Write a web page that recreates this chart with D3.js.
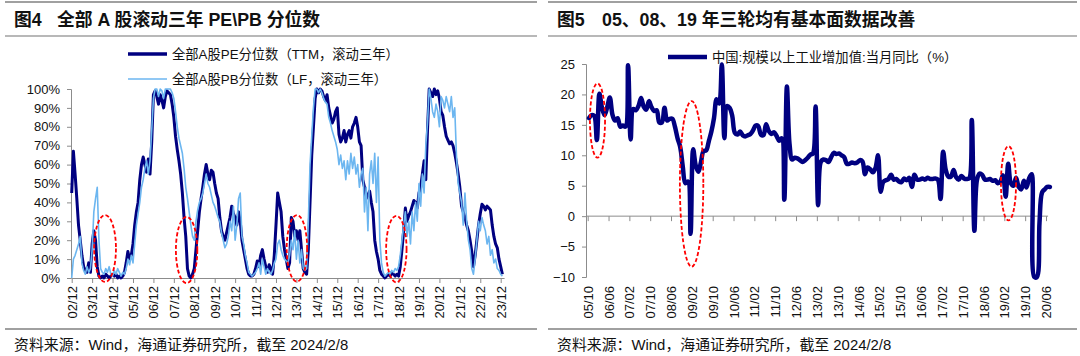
<!DOCTYPE html>
<html><head><meta charset="utf-8">
<script src="https://cdn.jsdelivr.net/npm/d3@7"></script>
<style>
html,body{margin:0;padding:0;background:#fff;}
svg{display:block;}
text{font-family:"Liberation Sans", Arial, "Noto Sans CJK SC", sans-serif;}
</style></head><body>
<svg id="c" width="1080" height="356"></svg>
<script>
// ---------- Left chart data (monthly, from 2002/12) ----------
const peStart = [2002, 12];
const pePercentile = [
 45,67,55,42,28,20,12,6,4,3,8,3,
 18,25,20,6,1,0,1,0,2,1,0,1,
 2,1,2,0,1,0,1,3,8,14,10,12,
 18,28,35,40,52,60,64,60,56,63,55,72,
 97,99,96,92,97,94,90,96,99,98,97,92,
 85,75,68,62,55,45,32,22,5,1,0,2,
 5,15,25,35,42,48,55,60,55,52,57,56,
 50,45,42,32,25,22,20,24,28,32,38,34,
 32,28,35,30,20,15,10,5,2,1,1,2,
 5,9,6,12,15,10,6,3,7,5,2,12,
 28,45,40,35,22,15,10,5,8,32,30,22,
 25,20,25,15,5,3,2,15,40,65,80,95,
 100,98,100,99,96,94,97,90,86,82,84,88,
 90,76,72,74,78,72,76,78,74,80,82,85,
 80,72,70,52,48,42,44,46,40,35,20,14,
 10,4,2,1,0,1,2,1,3,2,1,2,
 1,6,15,25,37,30,33,35,38,41,40,37,
 45,48,55,62,52,78,100,98,96,100,97,99,
 95,88,86,80,75,73,71,72,70,66,61,55,
 48,38,35,32,28,25,20,14,6,12,20,28,
 34,39,38,36,38,37,36,28,22,18,16,10,
 6,2
];
const pbPercentile = [
 0,10,12,15,18,22,8,4,2,6,3,5,
 15,35,42,48,20,5,3,2,5,3,6,2,
 1,4,2,5,3,1,3,2,5,10,7,12,
 8,18,28,34,40,48,52,58,62,55,62,78,
 95,100,100,96,100,99,95,100,100,100,100,98,
 95,88,80,74,70,66,58,48,42,35,28,22,
 20,30,36,40,42,45,50,55,50,48,44,40,
 38,35,32,30,24,20,16,18,22,30,25,38,
 20,28,42,45,22,18,12,8,3,2,1,2,
 3,5,8,2,10,6,2,5,3,2,4,8,
 10,18,20,15,12,10,9,8,12,20,15,25,
 10,20,8,15,5,4,5,30,60,75,90,100,
 100,98,100,98,95,93,92,85,82,78,75,72,
 68,60,65,58,62,52,62,55,66,58,64,55,
 60,48,55,58,35,48,25,55,62,50,66,40,
 64,20,8,3,1,2,3,2,4,3,5,4,
 6,12,20,28,35,22,30,18,35,25,40,30,
 50,38,55,45,70,82,100,95,88,85,92,88,
 80,96,94,90,96,92,88,96,85,90,65,50,
 45,40,28,45,30,20,15,5,2,10,20,30,
 25,32,28,25,18,22,12,15,8,10,5,4,
 2,1
];
const leftTickLabels = ["02/12","03/12","04/12","05/12","06/12","07/12","08/12","09/12","10/12","11/12","12/12","13/12","14/12","15/12","16/12","17/12","18/12","19/12","20/12","21/12","22/12","23/12"];
const leftTickStep = 12;
const leftYTicks = [0,10,20,30,40,50,60,70,80,90,100];
const leftSeriesNames = ["全部A股PE分位数（TTM，滚动三年）","全部A股PB分位数（LF，滚动三年）"];
// annotation ellipses: centre month index, centre value, radii in months / percent
const leftMarks = [
 {m:19.6, v:15.6, rm:6.4, rv:17.7},
 {m:67.5, v:14.8, rm:6.3, rv:17.5},
 {m:132.3, v:15.7, rm:6.0, rv:17.6},
 {m:190.7, v:15.3, rm:6.0, rv:17.6}
];

// ---------- Right chart data (monthly, from 2005/10) ----------
const ipStart = [2005, 10];
const ipYoY = [
 16.1,16.6,16.5,
 12.5,20.1,17.8,16.6,17.9,19.5,16.7,15.7,16.1,14.7,14.9,14.7,
 24.8,12.6,17.6,17.4,18.1,19.4,18.0,17.5,18.9,17.9,17.3,17.4,
 15.4,15.4,17.8,15.7,16.0,16.0,14.7,12.8,11.4,8.2,5.4,5.7,
 -2.9,11.0,8.3,7.3,8.9,10.7,10.8,12.3,13.9,16.1,19.2,18.5,
 24.9,12.8,18.1,17.8,16.5,13.7,13.4,13.9,13.3,13.1,13.3,13.5,
 14.1,14.9,14.8,13.4,13.3,15.1,14.0,13.5,13.8,13.2,12.4,12.8,
 2.7,21.3,11.9,9.3,9.6,9.5,9.2,8.9,9.2,9.6,10.1,10.3,
 18.0,1.8,8.9,9.3,9.2,8.9,9.7,10.4,10.2,10.3,10.0,9.7,
 8.6,8.6,8.8,8.7,8.8,9.2,9.0,6.9,8.0,7.7,7.2,7.9,
 10.0,4.0,5.6,5.9,6.1,6.8,6.0,6.1,5.7,5.6,6.2,5.9,
 6.3,4.8,6.8,6.0,6.0,6.2,6.0,6.3,6.1,6.1,6.2,6.0,
 2.8,10.6,7.6,6.5,6.5,7.6,6.4,6.0,6.6,6.2,6.1,6.2,
 15.8,-2.4,6.0,7.0,6.8,6.0,6.0,6.1,5.8,5.9,5.4,5.7,
 6.7,3.2,8.6,5.4,5.0,6.3,4.8,4.4,5.8,4.7,6.2,6.9,
 -13.5,-25.9,-1.1,3.9,4.4,4.8,4.8
];
const rightTickLabels = ["05/10","06/06","07/02","07/10","08/06","09/02","09/10","10/06","11/02","11/10","12/06","13/02","13/10","14/06","15/02","15/10","16/06","17/02","17/10","18/06","19/02","19/10","20/06"];
const rightTickStep = 8;
const rightYTicks = [-10,-5,0,5,10,15,20,25];
const rightSeriesName = "中国:规模以上工业增加值:当月同比（%）";
const rightMarks = [
 {m:3.76, v:15.7, rm:2.9, rv:6.1},
 {m:39.9, v:5.3, rm:4.5, rv:13.6},
 {m:161.6, v:5.4, rm:2.9, rv:6.1}
];

// ---------- drawing ----------
const svg = d3.select("#c");
const AXIS = "#8c8c8c", DARK = "#000080", LIGHT = "#6cb6f0", RED = "#ff0000", RULE = "#a0a0a0";

function frame(x0, x1, titleNum, titleText, titleX2) {
  svg.append("line").attr("x1",x0).attr("x2",x1).attr("y1",2).attr("y2",2).attr("stroke",RULE).attr("stroke-width",2);
  svg.append("line").attr("x1",x0).attr("x2",x1).attr("y1",36).attr("y2",36).attr("stroke",RULE).attr("stroke-width",1.5);
  svg.append("line").attr("x1",x0).attr("x2",x1).attr("y1",329).attr("y2",329).attr("stroke",RULE).attr("stroke-width",2);
  const t = svg.append("text").attr("y",26).attr("font-size",17.8).attr("font-weight","bold").attr("fill","#111");
  t.append("tspan").attr("x",x0+9).text(titleNum);
  t.append("tspan").attr("x",titleX2).text(titleText);
  svg.append("text").attr("x",x0+9).attr("y",350).attr("font-size",14.9).attr("fill","#111")
    .text("资料来源：Wind，海通证券研究所，截至 2024/2/8");
}
frame(5, 537, "图4", "全部 A 股滚动三年 PE\\PB 分位数", 57);
frame(548, 1077, "图5", "05、08、19 年三轮均有基本面数据改善", 602);

function ellipses(g, marks, x, y) {
  g.selectAll("ellipse.mk").data(marks).join("ellipse").attr("class","mk")
    .attr("cx", d => x(d.m)).attr("cy", d => y(d.v))
    .attr("rx", d => Math.abs(x(d.m + d.rm) - x(d.m)))
    .attr("ry", d => Math.abs(y(d.v + d.rv) - y(d.v)))
    .attr("fill","none").attr("stroke",RED).attr("stroke-width",1.8).attr("stroke-dasharray","4,2.2");
}

// ----- left -----
{
  const x = d3.scaleLinear().domain([0, 254]).range([71.7, 504.1]);
  const y = d3.scaleLinear().domain([0, 100]).range([278, 89]);
  const g = svg.append("g");

  const ya = d3.axisLeft(y).tickValues(leftYTicks).tickSize(4).tickPadding(7).tickFormat(d => d + "%");
  const yg = g.append("g").attr("transform", `translate(${x.range()[0]-0.7},0)`).call(ya);
  yg.select(".domain").attr("stroke",AXIS);
  yg.selectAll(".tick line").attr("stroke",AXIS);
  yg.selectAll("text").attr("font-size",13).attr("fill","#111").attr("font-family","Liberation Sans, Arial, sans-serif");

  const tickIdx = leftTickLabels.map((_, k) => k * leftTickStep);
  const xa = d3.axisBottom(x).tickValues(tickIdx).tickSize(5).tickSizeOuter(0).tickFormat((d, k) => leftTickLabels[k]);
  const xg = g.append("g").attr("transform", `translate(0,${y(0)})`).call(xa);
  xg.select(".domain").attr("stroke",AXIS);
  xg.selectAll(".tick line").attr("stroke",AXIS);
  xg.selectAll("text").attr("font-size",13).attr("fill","#111").attr("font-family","Liberation Sans, Arial, sans-serif")
    .attr("transform","rotate(-90)").attr("text-anchor","end").attr("x",-8).attr("y",0).attr("dy","0.35em");

  const line = d3.line().x((d, i) => x(i)).y(d => y(d));
  g.append("path").datum(pePercentile).attr("d", line).attr("fill","none").attr("stroke",DARK).attr("stroke-width",3).attr("stroke-linejoin","round");
  g.append("path").datum(pbPercentile).attr("d", line).attr("fill","none").attr("stroke",LIGHT).attr("stroke-width",1.6).attr("stroke-linejoin","round");

  ellipses(g, leftMarks, x, y);

  const lg = svg.append("g");
  const items = [{name:leftSeriesNames[0], c:DARK, w:3.5, y:54},{name:leftSeriesNames[1], c:LIGHT, w:1.7, y:79}];
  items.forEach(it => {
    lg.append("line").attr("x1",128).attr("x2",167).attr("y1",it.y).attr("y2",it.y).attr("stroke",it.c).attr("stroke-width",it.w);
    lg.append("text").attr("x",172).attr("y",it.y).attr("dy","0.36em").attr("font-size",13.3).attr("fill","#111").text(it.name);
  });
}

// ----- right -----
{
  const x = d3.scaleLinear().domain([0, 176]).range([587.7, 1046]);
  const y = d3.scaleLinear().domain([-10, 25]).range([277, 64]).clamp(true);
  const g = svg.append("g");

  const ya = d3.axisLeft(y).tickValues(rightYTicks).tickSize(4).tickPadding(7);
  const yg = g.append("g").attr("transform", `translate(586,0)`).call(ya);
  yg.select(".domain").attr("stroke",AXIS);
  yg.selectAll(".tick line").attr("stroke",AXIS);
  yg.selectAll("text").attr("font-size",13).attr("fill","#111").attr("font-family","Liberation Sans, Arial, sans-serif");

  const tickIdx = rightTickLabels.map((_, k) => k * rightTickStep);
  const xa = d3.axisBottom(x).tickValues(tickIdx).tickSize(5).tickSizeOuter(0).tickFormat((d, k) => rightTickLabels[k]);
  const xg = g.append("g").attr("transform", `translate(0,${y(0)})`).call(xa);
  xg.select(".domain").remove();
  g.append("line").attr("x1",586).attr("x2",x(176.8)).attr("y1",y(0)).attr("y2",y(0)).attr("stroke",AXIS);
  xg.selectAll(".tick line").attr("stroke",AXIS);
  const labY = 286 - y(0);
  xg.selectAll("text").attr("font-size",13).attr("fill","#111").attr("font-family","Liberation Sans, Arial, sans-serif")
    .attr("transform","rotate(-90)").attr("text-anchor","end").attr("x",-labY).attr("y",0).attr("dy","0.35em");

  const line = d3.line().x((d, i) => x(i + 0.5)).y(d => y(d)).curve(d3.curveCatmullRom.alpha(0.5));
  g.append("path").datum(ipYoY).attr("d", line).attr("fill","none").attr("stroke",DARK).attr("stroke-width",4.5).attr("stroke-linejoin","round").attr("stroke-linecap","round");

  ellipses(g, rightMarks, x, y);

  svg.append("line").attr("x1",668).attr("x2",707).attr("y1",57).attr("y2",57).attr("stroke",DARK).attr("stroke-width",4.5);
  svg.append("text").attr("x",712).attr("y",57).attr("dy","0.36em").attr("font-size",13.3).attr("fill","#111").text(rightSeriesName);
}
</script>
</body></html>
